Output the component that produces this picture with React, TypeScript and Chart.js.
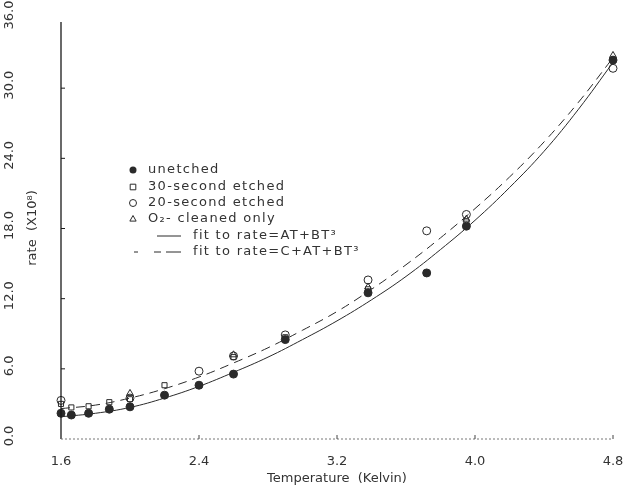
import React, { useEffect, useRef } from "react";
import { Chart, registerables } from "chart.js";

Chart.register(...registerables);

// ---- data ----
const xTickValues = [1.6, 2.4, 3.2, 4.0, 4.8];
const yTickValues = [0, 6, 12, 18, 24, 30, 36];

const unetchedT = [1.6, 1.66, 1.76, 1.88, 2.0, 2.2, 2.4, 2.6, 2.9, 3.38, 3.72, 3.95, 4.8];
const unetchedRate = [2.2, 2.05, 2.2, 2.55, 2.75, 3.75, 4.6, 5.55, 8.5, 12.5, 14.2, 18.2, 32.4];

const etched30T = [1.6, 1.66, 1.76, 1.88, 2.0, 2.2, 2.6, 2.9, 3.38, 3.95];
const etched30Rate = [3.0, 2.7, 2.8, 3.15, 3.4, 4.6, 7.0, 8.7, 12.8, 18.6];

const etched20T = [1.6, 2.0, 2.4, 2.6, 2.9, 3.38, 3.72, 3.95, 4.8];
const etched20Rate = [3.3, 3.5, 5.8, 7.1, 8.9, 13.6, 17.8, 19.2, 31.7];

const o2T = [2.0, 2.6, 3.38, 3.95, 4.8];
const o2Rate = [3.9, 7.2, 13.0, 18.8, 32.8];

const fitT = [1.6, 1.8, 2.0, 2.2, 2.4, 2.6, 2.8, 3.0, 3.2, 3.4, 3.6, 3.8, 4.0, 4.2, 4.4, 4.6, 4.8];
const fitSolidRate = [1.9, 2.2, 2.7, 3.5, 4.5, 5.7, 7.0, 8.5, 10.1, 11.9, 13.9, 16.2, 18.7, 21.5, 24.6, 28.2, 32.2];
const fitDashedRate = [2.6, 2.9, 3.5, 4.3, 5.3, 6.5, 7.8, 9.3, 10.9, 12.8, 14.9, 17.2, 19.7, 22.4, 25.4, 28.8, 32.6];

const legendLabels = [
  "unetched",
  "30-second etched",
  "20-second etched",
  "O\u2082- cleaned only",
  "fit to rate=AT+BT\u00B3",
  "fit to rate=C+AT+BT\u00B3",
];

const xTitle = "Temperature  (Kelvin)";
const yTitle = "rate  (X10\u2078)";

const pts = (xs: number[], ys: number[]) => xs.map((x, i) => ({ x, y: ys[i] }));

const INK = "#2a2a2a";
const FONT = '13px "DejaVu Sans"';
const DASH = [9, 6];

function drawMarker(ctx: CanvasRenderingContext2D, kind: string, x: number, y: number, r: number) {
  ctx.save();
  ctx.setLineDash([]);
  ctx.lineWidth = 1;
  ctx.strokeStyle = INK;
  ctx.fillStyle = INK;
  ctx.beginPath();
  if (kind === "filled") {
    ctx.arc(x, y, r, 0, Math.PI * 2);
    ctx.fill();
  } else if (kind === "rect") {
    ctx.rect(x - r * 0.8, y - r * 0.8, r * 1.6, r * 1.6);
    ctx.stroke();
  } else if (kind === "circle") {
    ctx.arc(x, y, r, 0, Math.PI * 2);
    ctx.stroke();
  } else {
    ctx.moveTo(x, y - r);
    ctx.lineTo(x + r * 0.9, y + r * 0.6);
    ctx.lineTo(x - r * 0.9, y + r * 0.6);
    ctx.closePath();
    ctx.stroke();
  }
  ctx.restore();
}

const decorPlugin = {
  id: "decor",
  afterDraw(chart: any) {
    const ctx: any = chart.ctx;
    const xs = chart.scales.x;
    const ys = chart.scales.y;
    const x0 = xs.getPixelForValue(xTickValues[0]);
    const x1 = xs.getPixelForValue(xTickValues[xTickValues.length - 1]);
    const y0 = ys.getPixelForValue(yTickValues[0]);
    const y1 = ys.getPixelForValue(yTickValues[yTickValues.length - 1]);
    ctx.save();

    // y axis line (solid)
    ctx.strokeStyle = "#1a1a1a";
    ctx.lineWidth = 1.3;
    ctx.beginPath();
    ctx.moveTo(x0, y0);
    ctx.lineTo(x0, y1 + 4);
    ctx.stroke();
    // y ticks pointing inward
    ctx.lineWidth = 1;
    ctx.beginPath();
    yTickValues.slice(1, -1).forEach((v) => {
      const p = ys.getPixelForValue(v);
      ctx.moveTo(x0, p);
      ctx.lineTo(x0 + 4, p);
    });
    ctx.stroke();

    // x axis line (faint, dotted)
    ctx.strokeStyle = "#777";
    ctx.setLineDash([2, 2]);
    ctx.beginPath();
    ctx.moveTo(x0, y0);
    ctx.lineTo(x1, y0);
    ctx.stroke();
    ctx.setLineDash([]);
    ctx.strokeStyle = "#444";
    ctx.beginPath();
    xTickValues.slice(1).forEach((v) => {
      const p = xs.getPixelForValue(v);
      ctx.moveTo(p, y0);
      ctx.lineTo(p, y0 - 4);
    });
    ctx.stroke();

    // tick labels
    ctx.fillStyle = "#333";
    ctx.font = FONT;
    ctx.textAlign = "center";
    ctx.textBaseline = "middle";
    xTickValues.forEach((v) => {
      ctx.fillText(v.toFixed(1), xs.getPixelForValue(v), y0 + 23);
    });
    yTickValues.forEach((v) => {
      ctx.save();
      ctx.translate(10, ys.getPixelForValue(v) - 3);
      ctx.rotate(-Math.PI / 2);
      ctx.fillText(v.toFixed(1), 0, 0);
      ctx.restore();
    });

    // axis titles
    ctx.fillText(xTitle, (x0 + x1) / 2, y0 + 40);
    ctx.save();
    ctx.translate(33, 228);
    ctx.rotate(-Math.PI / 2);
    ctx.fillText(yTitle, 0, 0);
    ctx.restore();

    // legend
    const mx = 133;
    const tx = 148;
    const rows = [170, 187, 203, 219, 236, 252];
    const kinds = ["filled", "rect", "circle", "triangle"];
    ctx.textAlign = "left";
    ctx.letterSpacing = "1.3px";
    kinds.forEach((k, i) => {
      drawMarker(ctx, k, mx, rows[i], 3.5);
      ctx.fillText(legendLabels[i], tx, rows[i]);
    });
    ctx.strokeStyle = INK;
    ctx.lineWidth = 1;
    ctx.beginPath();
    ctx.moveTo(157, rows[4]);
    ctx.lineTo(181, rows[4]);
    ctx.stroke();
    ctx.fillText(legendLabels[4], 193, rows[4]);
    ctx.setLineDash([4, 16, 7, 5, 15, 100]);
    ctx.beginPath();
    ctx.moveTo(134, rows[5]);
    ctx.lineTo(181, rows[5]);
    ctx.stroke();
    ctx.setLineDash([]);
    ctx.fillText(legendLabels[5], 193, rows[5]);

    ctx.restore();
  },
};

export default function App() {
  const canvasRef = useRef<HTMLCanvasElement | null>(null);

  useEffect(() => {
    if (!canvasRef.current) return;
    const markerBase = {
      type: "scatter" as const,
      pointRadius: 4,
      pointBorderWidth: 1,
      pointBorderColor: INK,
      borderColor: INK,
      clip: false as any,
    };
    const chart = new Chart(canvasRef.current, {
      type: "scatter",
      data: {
        datasets: [
          { ...markerBase, label: legendLabels[0], data: pts(unetchedT, unetchedRate), pointStyle: "circle", pointBackgroundColor: INK, backgroundColor: INK },
          { ...markerBase, label: legendLabels[1], data: pts(etched30T, etched30Rate), pointStyle: "rect", pointRadius: 3.6, pointBackgroundColor: "rgba(0,0,0,0)", backgroundColor: "rgba(0,0,0,0)" },
          { ...markerBase, label: legendLabels[2], data: pts(etched20T, etched20Rate), pointStyle: "circle", pointBackgroundColor: "rgba(0,0,0,0)", backgroundColor: "rgba(0,0,0,0)" },
          { ...markerBase, label: legendLabels[3], data: pts(o2T, o2Rate), pointStyle: "triangle", pointBackgroundColor: "rgba(0,0,0,0)", backgroundColor: "rgba(0,0,0,0)" },
          {
            type: "scatter" as const,
            label: legendLabels[4],
            data: pts(fitT, fitSolidRate),
            showLine: true,
            borderColor: INK,
            borderWidth: 1,
            pointRadius: 0,
            tension: 0.4,
            clip: false as any,
          },
          {
            type: "scatter" as const,
            label: legendLabels[5],
            data: pts(fitT, fitDashedRate),
            showLine: true,
            borderColor: INK,
            borderWidth: 1,
            borderDash: DASH,
            pointRadius: 0,
            tension: 0.4,
            clip: false as any,
          },
        ],
      },
      options: {
        animation: false,
        responsive: true,
        maintainAspectRatio: false,
        layout: { padding: { left: 61, right: 22, top: 18, bottom: 49 } },
        plugins: { legend: { display: false }, tooltip: { enabled: false } },
        scales: {
          x: { type: "linear", min: 1.6, max: 4.8, display: false },
          y: { type: "linear", min: 0, max: 36, display: false },
        },
      },
      plugins: [decorPlugin],
    });
    return () => chart.destroy();
  }, []);

  return (
    <div style={{ position: "fixed", left: 0, top: 0, width: 635, height: 488, background: "#fff" }}>
      <canvas ref={canvasRef} />
    </div>
  );
}
